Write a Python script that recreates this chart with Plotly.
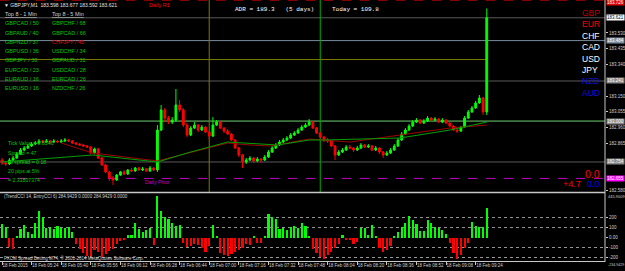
import plotly.graph_objects as go

# ---------------- data ----------------
# bar times: minutes after 05:08 (2-minute bars)
bar_min = list(range(0, 263, 2))
first_open = 182.766
closes = [182.748, 182.742, 182.766, 182.778, 182.802, 182.826, 182.838, 182.850, 182.862, 182.868,
          182.880, 182.874, 182.880, 182.874, 182.880, 182.874, 182.880, 182.886, 182.880, 182.868,
          182.862, 182.856, 182.850, 182.844, 182.808, 182.832, 182.778, 182.736, 182.694, 182.658,
          182.646, 182.676, 182.694, 182.682, 182.706, 182.700, 182.718, 182.706, 182.712, 182.700,
          182.718, 182.706, 182.946, 183.067, 183.018, 182.994, 183.006, 183.097, 183.067, 182.976,
          182.916, 182.958, 182.976, 182.946, 182.964, 182.934, 182.910, 182.976, 182.994, 182.958,
          182.940, 182.922, 182.886, 182.838, 182.796, 182.754, 182.766, 182.778, 182.760, 182.772,
          182.766, 182.784, 182.814, 182.838, 182.856, 182.874, 182.886, 182.898, 182.916, 182.928,
          182.946, 182.964, 182.976, 182.994, 182.958, 182.928, 182.904, 182.886, 182.880, 182.850,
          182.796, 182.814, 182.826, 182.844, 182.838, 182.826, 182.838, 182.856, 182.844, 182.850,
          182.826, 182.838, 182.814, 182.796, 182.808, 182.826, 182.850, 182.886, 182.922, 182.946,
          182.970, 182.994, 183.006, 182.988, 183.000, 183.018, 183.006, 183.012, 182.994, 183.006,
          182.988, 182.970, 182.946, 182.940, 182.964, 183.018, 183.055, 183.079, 183.109, 183.139,
          183.055, 183.621]
highs = [182.778, 182.760, 182.778, 182.790, 182.814, 182.838, 182.850, 182.862, 182.874, 182.880,
         182.892, 182.886, 182.892, 182.886, 182.892, 182.886, 182.892, 182.898, 182.892, 182.886,
         182.874, 182.868, 182.862, 182.856, 182.850, 182.840, 182.838, 182.784, 182.742, 182.700,
         182.670, 182.682, 182.700, 182.706, 182.712, 182.718, 182.724, 182.724, 182.724, 182.718,
         182.730, 182.724, 182.976, 183.097, 183.079, 183.030, 183.024, 183.193, 183.127, 183.079,
         182.988, 182.970, 182.994, 182.982, 182.976, 182.970, 182.940, 183.024, 183.006, 183.000,
         182.964, 182.952, 182.928, 182.892, 182.844, 182.802, 182.778, 182.790, 182.784, 182.784,
         182.778, 182.796, 182.826, 182.850, 182.868, 182.886, 182.898, 182.910, 182.928, 182.940,
         182.958, 182.976, 182.988, 183.012, 183.000, 182.964, 182.934, 182.910, 182.898, 182.886,
         182.856, 182.826, 182.838, 182.856, 182.856, 182.844, 182.850, 182.868, 182.862, 182.862,
         182.856, 182.850, 182.844, 182.820, 182.820, 182.838, 182.862, 182.898, 182.934, 182.958,
         182.982, 183.006, 183.018, 183.012, 183.012, 183.030, 183.024, 183.024, 183.018, 183.018,
         183.012, 182.994, 182.976, 182.952, 182.970, 183.030, 183.067, 183.091, 183.121, 183.157,
         183.145, 183.677]
lows = [182.736, 182.730, 182.736, 182.760, 182.772, 182.796, 182.820, 182.832, 182.844, 182.856,
        182.862, 182.868, 182.868, 182.862, 182.868, 182.868, 182.868, 182.874, 182.874, 182.862,
        182.856, 182.850, 182.844, 182.838, 182.802, 182.800, 182.772, 182.730, 182.688, 182.640,
        182.616, 182.640, 182.670, 182.676, 182.676, 182.694, 182.694, 182.700, 182.700, 182.694,
        182.694, 182.700, 182.694, 182.940, 182.994, 182.982, 182.982, 182.994, 183.055, 182.964,
        182.904, 182.910, 182.952, 182.934, 182.940, 182.928, 182.886, 182.904, 182.970, 182.952,
        182.928, 182.916, 182.880, 182.832, 182.784, 182.718, 182.742, 182.760, 182.748, 182.754,
        182.748, 182.760, 182.778, 182.808, 182.832, 182.850, 182.868, 182.880, 182.892, 182.910,
        182.922, 182.940, 182.958, 182.970, 182.952, 182.922, 182.898, 182.874, 182.868, 182.844,
        182.766, 182.790, 182.808, 182.820, 182.832, 182.814, 182.820, 182.832, 182.838, 182.838,
        182.820, 182.820, 182.802, 182.778, 182.790, 182.802, 182.820, 182.844, 182.880, 182.916,
        182.940, 182.964, 182.988, 182.982, 182.982, 182.994, 183.000, 183.000, 182.988, 182.988,
        182.982, 182.964, 182.940, 182.928, 182.934, 182.958, 183.012, 183.049, 183.073, 183.103,
        183.036, 183.036]
cci = [140, 107, -93, -110, 10, 90, 130, 60, 40, 150,
       263, 210, 100, 110, 90, 120, 100, 95, 110, 60,
       -60, -110, -150, -180, -193, -120, -140, -190, -160, -130,
       -110, -60, -30, -20, 30, 30, 150, 90, 60, 80,
       100, -77, 417, 270, 210, 190, 150, 120, 130, -50,
       -90, -80, -60, -70, -100, -143, -80, 130, 10, -150,
       -170, -183, -160, -140, -120, -100, -60, -70, 15, -50,
       -50, 20, 240, 207, 190, 90, 100, 80, 107, 120,
       100, 150, 120, 20, -110, -150, -193, -217, -170, -140,
       -100, -60, 30, -20, -20, -60, -40, 100, 100, 30,
       130, 10, -100, -143, -120, -80, 20, 60, 110, 150,
       213, 180, 140, 70, 70, 173, 150, 110, 100, 80,
       40, -50, -150, -210, -170, -100, -50, 157, 120, 107,
       110, 300]
# moving averages (sparse points: minute, price)
ma_fast_min = [0, 31, 49, 84, 102, 122, 149, 166, 174, 215, 242, 262]
ma_fast = [182.754, 182.778, 182.796, 182.754, 182.814, 182.874, 182.856, 182.886, 182.886, 182.898, 182.946, 182.994]
ma_slow_min = [32, 49, 84, 122, 134, 145, 166, 188, 215, 242, 262]
ma_slow = [182.868, 182.808, 182.760, 182.868, 182.856, 182.850, 182.892, 182.874, 182.916, 182.958, 182.976]

# horizontal levels
r1_level = 183.726
bid_level = 183.621
levels_grey = [183.241, 182.754]
level_slate = 183.484
level_olive = 183.370
level_green = 183.000
pivot_level = 182.655
# vertical session lines (minutes after 05:08)
olive_vline = 112
green_vline = 172

price_ticks = [183.530, 183.435, 183.340, 183.150, 183.055, 182.960, 182.865, 182.580]
time_ticks = [0, 16, 32, 48, 64, 80, 96, 112, 128, 144, 160, 176, 192, 208, 224, 240, 256]
time_labels = ["18 Feb 2015", "18 Feb 05:24", "18 Feb 05:40", "18 Feb 05:56", "18 Feb 06:12",
               "18 Feb 06:28", "18 Feb 06:44", "18 Feb 07:00", "18 Feb 07:16", "18 Feb 07:32",
               "18 Feb 07:48", "18 Feb 08:04", "18 Feb 08:20", "18 Feb 08:36", "18 Feb 08:52",
               "18 Feb 09:08", "18 Feb 09:24"]
cci_ticks = [200, 100, 0, -100, -200]
cci_labels = ["200", "100", "0.00", "-100", "-200"]
cci_max_label = "445.9009"
cci_min_label = "-234.9429"

top1 = ["GBPCAD / 50", "GBPAUD / 40", "GBPNZD / 37", "GBPUSD / 36", "GBPJPY / 30", "EURCAD / 23", "EURAUD / 16", "EURUSD / 16"]
top5 = ["GBPCHF / 68", "GBPCAD / 66", "CHFJPY / 45", "USDCHF / 34", "GBPAUD / 31", "USDCAD / 28", "EURCAD / 26", "NZDCHF / 26"]
top5_colors = ["#00C800", "#00C800", "#E00000", "#00C800", "#00C800", "#00C800", "#00C800", "#00C800"]
currencies = ["GBP", "EUR", "CHF", "CAD", "USD", "JPY", "NZD", "AUD"]
cur_colors = ["#C00000", "#FF0000", "#FFFFFF", "#FFFFFF", "#FFFFFF", "#FFFFFF", "#1010D0", "#1010D0"]
info_lines = ["Tick Value = 0.8546", "Spread = 47", "Hi spread = 0.18", "20 pips at 5%", "= 2.31807374"]

opens = [first_open] + closes[:-1]

# ---------------- figure ----------------
W_PLOT, H_PLOT = 605, 261
def px(x):
    return x / W_PLOT
def py(y):
    return 1 - y / H_PLOT

fig = go.Figure()
fig.add_trace(go.Scatter(x=ma_slow_min, y=ma_slow, mode="lines", line=dict(color="#A00000", width=1),
                         xaxis="x", yaxis="y", hoverinfo="skip", showlegend=False))
fig.add_trace(go.Scatter(x=ma_fast_min, y=ma_fast, mode="lines", line=dict(color="#00A000", width=1),
                         xaxis="x", yaxis="y", hoverinfo="skip", showlegend=False))
fig.add_trace(go.Candlestick(x=bar_min, open=opens, high=highs, low=lows, close=closes,
                             increasing=dict(line=dict(color="#00FF00", width=1), fillcolor="#00FF00"),
                             decreasing=dict(line=dict(color="#FF0000", width=1), fillcolor="#FF0000"),
                             whiskerwidth=0, xaxis="x", yaxis="y", showlegend=False))
fig.add_trace(go.Bar(x=bar_min, y=cci, width=1.15,
                     marker=dict(color=["#00FF00" if v >= 0 else "#FF0000" for v in cci], line=dict(width=0)),
                     xaxis="x2", yaxis="y2", showlegend=False))

shapes = []
def hline(y, color, dash="solid", x1=1, xref="paper"):
    shapes.append(dict(type="line", xref=xref, yref="y", x0=0 if xref == "paper" else -2, x1=x1, y0=y, y1=y,
                       line=dict(color=color, width=1, dash=dash), layer="below"))
hline(r1_level, "#A00000", "dash")
hline(bid_level, "#5A5A5A")
hline(level_slate, "#7A8A9A")
hline(level_olive, "#7A7A00", x1=bar_min[-1], xref="x")
for lv in levels_grey:
    hline(lv, "#5A5A5A")
hline(level_green, "#70D070")
hline(pivot_level, "#C000C0", "dash")
for xv, col in [(olive_vline, "#7A7A00"), (green_vline, "#00B000")]:
    shapes.append(dict(type="line", xref="x", yref="y domain", x0=xv, x1=xv, y0=0, y1=1,
                       line=dict(color=col, width=1), layer="below"))
for lv in [200, 100, -100, -200]:
    shapes.append(dict(type="line", xref="paper", yref="y2", x0=0, x1=1, y0=lv, y1=lv,
                       line=dict(color="#9A9A9A", width=1, dash="dot"), layer="below"))
# panel frame
shapes.append(dict(type="line", xref="paper", yref="paper", x0=1, x1=1, y0=py(262), y1=1,
                   line=dict(color="#C8C8C8", width=1)))
shapes.append(dict(type="line", xref="paper", yref="paper", x0=0, x1=1, y0=py(192.5), y1=py(192.5),
                   line=dict(color="#C8C8C8", width=1.5)))
shapes.append(dict(type="line", xref="paper", yref="paper", x0=0, x1=1, y0=py(261.5), y1=py(261.5),
                   line=dict(color="#C8C8C8", width=1)))

ann = []
FONT = "Liberation Sans"
def txt(x, y, s, color="#FFFFFF", size=5.5, xa="left", ya="middle", family=FONT, bg=None):
    d = dict(x=px(x), y=py(y), xref="paper", yref="paper", text=s, showarrow=False,
             xanchor=xa, yanchor=ya, font=dict(color=color, size=size, family=family))
    if bg:
        d["bgcolor"] = bg
        d["borderpad"] = 0
    ann.append(d)

txt(2, 4.5, "▼ GBPJPY,M1  183.598 183.677 183.592 183.621", "#E0E0E0", 5)
txt(147, 5.5, "Daily R1", "#FF0000", 5.5)
txt(3, 14, "<u>Top 8 - 1 Min</u>", "#D0D0D0", 5.5)
txt(50, 14, "<u>Top 8 - 5 Min</u>", "#D0D0D0", 5.5)
ys = [23.5, 33, 42, 51, 60.5, 69.5, 79, 88]
for i, yv in enumerate(ys):
    txt(3, yv, top1[i], "#00C800", 5.5)
    txt(50, yv, top5[i], top5_colors[i], 5.5)
txt(233, 10, "ADR = 189.3   (5 days)", "#FFFFFF", 6, family="Liberation Mono")
txt(330, 10, "Today = 109.8", "#FFFFFF", 6, family="Liberation Mono")
cys = [13, 24, 35.5, 47, 59, 70, 81, 93]
for i, yv in enumerate(cys):
    txt(580, yv, currencies[i], cur_colors[i], 8.5)
txt(602, 173.5, "0.0", "#FF0000", 10.5, xa="right")
txt(583, 184, "+4.7", "#FF0000", 9, xa="right")
txt(602, 184, "0.0", "#0000FF", 9, xa="right")
iys = [143, 152.5, 162, 171, 180]
for i, yv in enumerate(iys):
    txt(6, yv, info_lines[i], "#00C800", 5.2)
txt(143, 182, "Daily Pivot", "#C000C0", 5.2)
txt(2, 196, "(TrendCCI 14, EntryCCI 6) 284.9429 0.0000 284.9429 0.0000", "#D0D0D0", 4.5)
txt(2, 258, "FXCM Spread Betting MT4, © 2001-2014 MetaQuotes Software Corp.", "#D0D0D0", 4.5)
txt(606, 196, cci_max_label, "#D0D0D0", 4)
txt(606, 264.5, cci_min_label, "#D0D0D0", 3.6)

# price boxes on the right axis
def box(level, bg, fg, yshift=0):
    ann.append(dict(x=1, xref="paper", y=level, yref="y", text=f"{level:.3f}", showarrow=False,
                    xanchor="left", yanchor="middle", bgcolor=bg, borderpad=0, xshift=1, yshift=yshift,
                    font=dict(color=fg, size=4.5, family=FONT)))
box(r1_level, "#E00000", "#FFFFFF", yshift=-2.5)
box(bid_level, "#FFFFFF", "#000000")
box(level_slate, "#8090A0", "#FFFFFF")
for lv in levels_grey:
    box(lv, "#8A8A8A", "#FFFFFF")
box(level_green, "#8A8A8A", "#FFFFFF")
box(pivot_level, "#FF00FF", "#FFFFFF")

axis_common = dict(showgrid=False, zeroline=False, automargin=False, fixedrange=True)
fig.update_layout(
    template="none",
    width=625, height=271,
    margin=dict(l=0, r=20, t=0, b=10, autoexpand=False),
    paper_bgcolor="#000000", plot_bgcolor="#000000",
    showlegend=False, bargap=0,
    shapes=shapes, annotations=ann,
    xaxis=dict(domain=[0, 1], range=[-1.08, 325.9], anchor="y", showticklabels=False, ticks="",
               rangeslider=dict(visible=False), **axis_common),
    xaxis2=dict(domain=[0, 1], range=[-1.08, 325.9], anchor="y2", tickangle=0,
                tickvals=time_ticks, ticktext=time_labels, ticklabelposition="outside right",
                ticks="outside", ticklen=3, tickcolor="#C8C8C8",
                tickfont=dict(color="#D0D0D0", size=4.5, family=FONT), **axis_common),
    yaxis=dict(domain=[py(192), 1], range=[182.5735, 183.728], side="right", anchor="x",
               tickvals=price_ticks, ticktext=[f"{v:.3f}" for v in price_ticks],
               ticks="outside", ticklen=2, tickcolor="#C8C8C8",
               tickfont=dict(color="#D0D0D0", size=4.5, family=FONT), **axis_common),
    yaxis2=dict(domain=[0, py(193)], range=[-234.9429, 445.9009], side="right", anchor="x2",
                tickvals=cci_ticks, ticktext=cci_labels,
                ticks="outside", ticklen=2, tickcolor="#C8C8C8",
                tickfont=dict(color="#D0D0D0", size=4.5, family=FONT), **axis_common),
)
fig.write_html("out.html")
